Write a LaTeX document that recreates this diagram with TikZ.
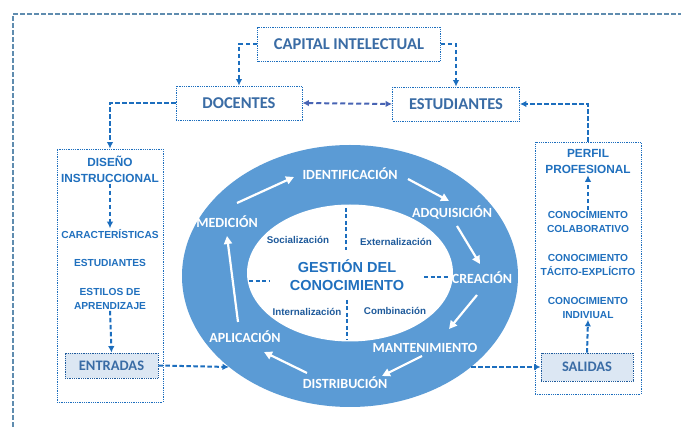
\documentclass[tikz,border=0pt]{standalone}
\usepackage{fontspec}
\setmainfont{Liberation Sans}
\newfontfamily\carl{Carlito}
\usetikzlibrary{shapes.geometric,arrows.meta}
\definecolor{ellfill}{RGB}{91,155,213}
\definecolor{topblue}{RGB}{58,108,165}
\definecolor{txtblue}{RGB}{32,112,190}
\definecolor{dkblue}{RGB}{30,90,155}
\definecolor{connblue}{RGB}{28,110,190}
\definecolor{dblblue}{RGB}{72,100,180}
\definecolor{framecol}{RGB}{95,140,175}
\definecolor{boxfill}{RGB}{220,231,243}
\begin{document}
\begin{tikzpicture}[x=1pt,y=-1pt,
  topbox/.style={draw=connblue, densely dotted, line width=0.8pt, inner sep=0, minimum height=34,
     text=topblue, font=\carl\bfseries\fontsize{16.5}{18}\selectfont},
  bigbox/.style={draw=connblue, densely dotted, line width=0.8pt, inner sep=0},
  inbox/.style={draw=dkblue, densely dotted, line width=0.8pt, fill=boxfill, inner sep=0,
     text=topblue, font=\carl\bfseries\fontsize{14.5}{15}\selectfont},
  head/.style={align=center, text=txtblue, inner sep=1pt, font=\bfseries\fontsize{11.8}{16}\selectfont},
  small/.style={align=center, text=txtblue, inner sep=1pt, font=\bfseries\fontsize{10.2}{14}\selectfont},
  cyc/.style={text=white, inner sep=1pt, font=\carl\bfseries\fontsize{14}{15}\selectfont},
  mode/.style={text=dkblue, inner sep=1pt, font=\bfseries\fontsize{9.8}{11}\selectfont},
  conn/.style={draw=connblue, line width=2pt, dash pattern=on 4.5pt off 2.5pt,
     -{Latex[length=6.5pt,width=6.5pt]}},
  dbl/.style={draw=dblblue, line width=2pt, dash pattern=on 5pt off 3pt,
     {Latex[length=6.5pt,width=6.5pt]}-{Latex[length=6.5pt,width=6.5pt]}},
  warrow/.style={draw=white, line width=2.2pt, -{Triangle[length=8pt,width=8pt]}},
  idash/.style={draw=connblue, line width=1.8pt, dash pattern=on 4pt off 2.5pt},
  frame/.style={draw=framecol, line width=1.5pt, dash pattern=on 4.5pt off 2.5pt}]
\useasboundingbox (0,0) rectangle (681,427);
\fill[white] (0,0) rectangle (681,427);
% outer frame
\draw[frame] (13,427) -- (13,14) -- (681,14);
% top boxes
\node[topbox, minimum width=183] (cap) at (349,44) {CAPITAL INTELECTUAL};
\node[topbox, minimum width=126] (doc) at (239,103) {DOCENTES};
\node[topbox, minimum width=127] (est) at (456,104) {ESTUDIANTES};
% side boxes
\node[bigbox, minimum width=106, minimum height=253] (dis) at (110,275.5) {};
\node[bigbox, minimum width=106, minimum height=252] (perf) at (588,268) {};
% connectors top
\draw[conn] (cap.west) -| (doc.north);
\draw[conn] (cap.east) -| (est.north);
\draw[dbl] (doc.east) -- (est.west);
\draw[conn] (doc.west) -| (dis.north);
\draw[conn] (perf.north) |- (est.east);
% left box content
\node[head] (dist) at (110,169) {DISEÑO\\INSTRUCCIONAL};
\node[small] (car) at (110,234) {CARACTERÍSTICAS};
\node[small] (estu) at (110,263) {ESTUDIANTES};
\node[small] (esti) at (110,299) {ESTILOS DE\\APRENDIZAJE};
\node[inbox, minimum width=93, minimum height=25] (entr) at (111.5,365.5) {ENTRADAS};
\draw[conn] (dist.south) -- (car.north);
\draw[conn] (esti.south) -- (entr.north);
% right box content
\node[head] (perft) at (588,162) {PERFIL\\PROFESIONAL};
\node[small] (col) at (588,222) {CONOCIMIENTO\\COLABORATIVO};
\node[small] (tac) at (588,265) {CONOCIMIENTO\\TÁCITO-EXPLÍCITO};
\node[small] (ind) at (588,308) {CONOCIMIENTO\\INDIVIUAL};
\node[inbox, minimum width=92, minimum height=28] (sal) at (587,367) {SALIDAS};
\draw[conn] (col.north) -- (perft.south);
\draw[conn] (sal.north) -- (ind.south);
% ellipses
\node[ellipse, fill=ellfill, minimum width=336, minimum height=262, inner sep=0] (outer) at (350,276) {};
\node[ellipse, fill=white, minimum width=206, minimum height=137, inner sep=0] (inner) at (350,273) {};
\coordinate (inL) at (229,367);
\coordinate (inR) at (471,367);
\draw[conn] (entr.east) -- (inL);
\draw[conn] (inR) -- (sal.west);
% inner dashed lines
\draw[idash] (346,208) -- (346,250);
\draw[idash] (347,300) -- (347,340);
\draw[idash] (249,281) -- (270,281);
\draw[idash] (424,277) -- (448,277);
% inner labels
\node[mode] (soc) at (298,240) {Socialización};
\node[mode] (ext) at (396,242) {Externalización};
\node[mode] (int) at (307,312) {Internalización};
\node[mode] (com) at (395,311) {Combinación};
\node[align=center, text=txtblue, inner sep=1pt, font=\bfseries\fontsize{14.5}{18}\selectfont] (gc) at (347,275) {GESTIÓN DEL\\CONOCIMIENTO};
% cycle labels
\node[cyc] (ide) at (350,174) {IDENTIFICACIÓN};
\node[cyc] (adq) at (452,213) {ADQUISICIÓN};
\node[cyc] (cre) at (482,278) {CREACIÓN};
\node[cyc] (man) at (425,348) {MANTENIMIENTO};
\node[cyc] (dis2) at (345,383) {DISTRIBUCIÓN};
\node[cyc] (apl) at (245,337) {APLICACIÓN};
\node[cyc] (med) at (227,222) {MEDICIÓN};
% white arrows
\coordinate (a1) at (237,203); \coordinate (b1) at (294,177);
\coordinate (a2) at (408,179); \coordinate (b2) at (449,201);
\coordinate (a3) at (457,226); \coordinate (b3) at (480,264);
\coordinate (a4) at (477,295); \coordinate (b4) at (449,329);
\coordinate (a5) at (422,356); \coordinate (b5) at (382,376);
\coordinate (a6) at (307,373); \coordinate (b6) at (264,352);
\coordinate (a7) at (238,322); \coordinate (b7) at (227,236);
\draw[warrow] (a1) -- (b1);
\draw[warrow] (a2) -- (b2);
\draw[warrow] (a3) -- (b3);
\draw[warrow] (a4) -- (b4);
\draw[warrow] (a5) -- (b5);
\draw[warrow] (a6) -- (b6);
\draw[warrow] (a7) -- (b7);
\end{tikzpicture}
\end{document}
